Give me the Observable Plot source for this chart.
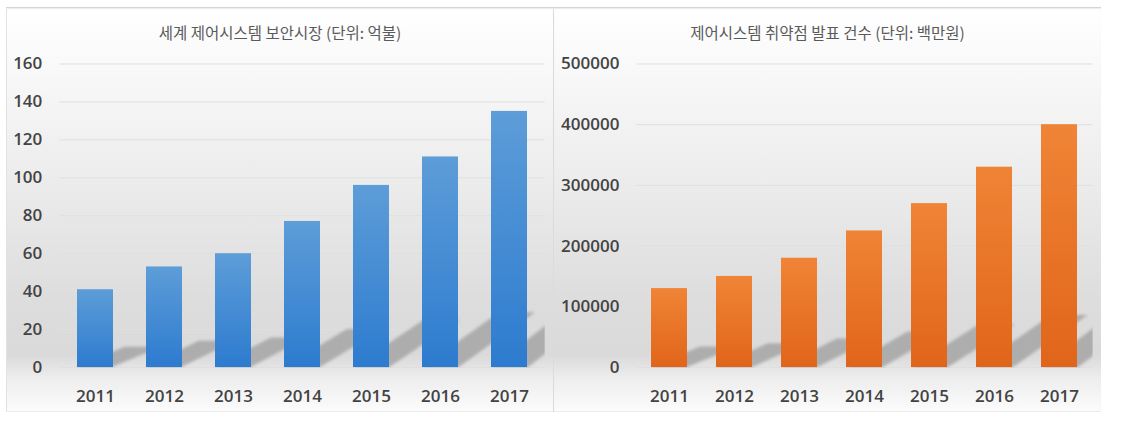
<!DOCTYPE html>
<html>
<head>
<meta charset="utf-8">
<script src="https://cdn.jsdelivr.net/npm/d3@7"></script>
<script src="https://cdn.jsdelivr.net/npm/@observablehq/plot@0.6"></script>
<style>
  html, body { margin: 0; padding: 0; background: #ffffff; width: 1126px; height: 423px; overflow: hidden; }
  .panel {
    position: absolute; top: 7px; height: 405px;
    background: linear-gradient(to bottom, #ffffff 0%, #fafafa 12%, #ebebeb 45%, #dddddd 72%, #dadada 86%, #eeeeee 92%, #fcfcfc 100%);
  }
  #p1 { left: 6px; width: 548px; box-shadow: inset 0 1px 0 #d4d4d4, inset 0 2px 1px #ececec, inset 1px 0 0 #e2e2e2, inset -1px 0 0 #dadada, inset 0 -1px 0 #ececec; }
  #p2 { left: 554px; width: 547px; box-shadow: inset 0 1px 0 #d4d4d4, inset 0 2px 1px #ececec, inset 0 -1px 0 #ececec; }
  .title {
    position: absolute; left: 0; right: 0; top: 15px; height: 20px; line-height: 20px;
    text-align: center; font-family: "Noto Sans CJK KR", sans-serif; font-size: 15.5px; color: #5a5a5a;
  }
  .chart { position: absolute; left: 0; top: 0; }
</style>
</head>
<body>
<div id="p1" class="panel"><div class="title">세계 제어시스템 보안시장 (단위: 억불)</div><div class="chart" id="c1"></div></div>
<div id="p2" class="panel"><div class="title">제어시스템 취약점 발표 건수 (단위: 백만원)</div><div class="chart" id="c2"></div></div>
<script>
// ---- data ----
const years = ["2011", "2012", "2013", "2014", "2015", "2016", "2017"];
const marketValues = [41, 53, 60, 77, 96, 111, 135];
const vulnValues = [130000, 150000, 180000, 225000, 270000, 330000, 400000];
const marketTicks = [0, 20, 40, 60, 80, 100, 120, 140, 160];
const vulnTicks = [0, 100000, 200000, 300000, 400000, 500000];

function makeChart(cfg) {
  const data = years.map((year, i) => ({year, value: cfg.values[i]}));
  const chart = Plot.plot({
    width: cfg.width,
    height: 405,
    marginLeft: cfg.marginLeft,
    marginRight: cfg.marginRight,
    marginTop: 56.5,
    marginBottom: 45,
    style: {
      background: "transparent",
      fontSize: "17px",
      fontFamily: '"Open Sans", sans-serif',
      fontWeight: 600,
      color: "#434343",
      overflow: "visible"
    },
    x: {domain: years, paddingInner: cfg.pi, paddingOuter: cfg.pi / 2, align: 0.5, tickSize: 0, tickPadding: 22, label: null},
    y: {domain: [0, cfg.max], ticks: cfg.ticks, tickSize: 0, tickPadding: 17.5, tickFormat: d => String(d), label: null},
    marks: [
      Plot.ruleY(cfg.ticks, {stroke: "#dfdfdf", strokeWidth: 1}),
      Plot.barY(data, {x: "year", y: "value", fill: `url(#${cfg.gradId})`})
    ]
  });

  const svg = d3.select(chart.tagName.toLowerCase() === "svg" ? chart : chart.querySelector("svg"));
  const defs = svg.insert("defs", ":first-child");
  const g = defs.append("linearGradient").attr("id", cfg.gradId).attr("x1", 0).attr("y1", 0).attr("x2", 0).attr("y2", 1);
  g.append("stop").attr("offset", "0%").attr("stop-color", cfg.top);
  g.append("stop").attr("offset", "100%").attr("stop-color", cfg.bottom);
  const blur = defs.append("filter").attr("id", cfg.gradId + "-blur").attr("x", "-20%").attr("y", "-20%").attr("width", "140%").attr("height", "140%");
  blur.append("feGaussianBlur").attr("stdDeviation", 1.5);
  const plotW = cfg.width - cfg.marginLeft - cfg.marginRight;
  const plotH = 405 - 56.5 - 45;
  defs.append("clipPath").attr("id", cfg.gradId + "-clip")
    .append("rect").attr("x", cfg.marginLeft).attr("y", 56.5).attr("width", plotW).attr("height", plotH + 1);

  // decorative shadows behind the bars, positioned with the chart's own scales
  const xs = chart.scale("x"), ys = chart.scale("y");
  const sx = d3.scaleBand(xs.domain, xs.range)
    .paddingInner(xs.paddingInner ?? cfg.pi).paddingOuter(xs.paddingOuter ?? cfg.pi / 2).align(xs.align ?? 0.5);
  const sy = d3.scaleLinear(ys.domain, ys.range);
  const bw = sx.bandwidth();
  const B = sy(0);
  const barGroup = svg.node().querySelector('g[aria-label="bar"]');
  const sh = d3.create("svg:g").attr("clip-path", `url(#${cfg.gradId}-clip)`);
  const inner = sh.append("g").attr("filter", `url(#${cfg.gradId}-blur)`);
  data.forEach(d => {
    const x0 = sx(d.year), x1 = x0 + bw;
    const h = B - sy(d.value);
    const dy = 0.26 * h, dx = 0.8 * dy + 0.9 * bw;
    inner.append("polygon")
      .attr("points", [[x0, B], [x1, B], [x1 + dx, B - dy], [x0 + dx, B - dy]].map(p => p.join(",")).join(" "))
      .attr("fill", "#a6a6a6").attr("fill-opacity", 0.85);
  });
  if (barGroup) barGroup.parentNode.insertBefore(sh.node(), barGroup);
  else svg.node().appendChild(sh.node());

  document.getElementById(cfg.id).appendChild(chart);
}

makeChart({
  id: "c1", values: marketValues, ticks: marketTicks, max: 160,
  width: 548, marginLeft: 53.3, marginRight: 9.3, pi: 0.48,
  gradId: "blueGrad", top: "#5d9dd8", bottom: "#2d7bcf"
});
makeChart({
  id: "c2", values: vulnValues, ticks: vulnTicks, max: 500000,
  width: 547, marginLeft: 82.4, marginRight: 8.4, pi: 0.44,
  gradId: "orangeGrad", top: "#f08436", bottom: "#e0651a"
});
</script>
</body>
</html>
